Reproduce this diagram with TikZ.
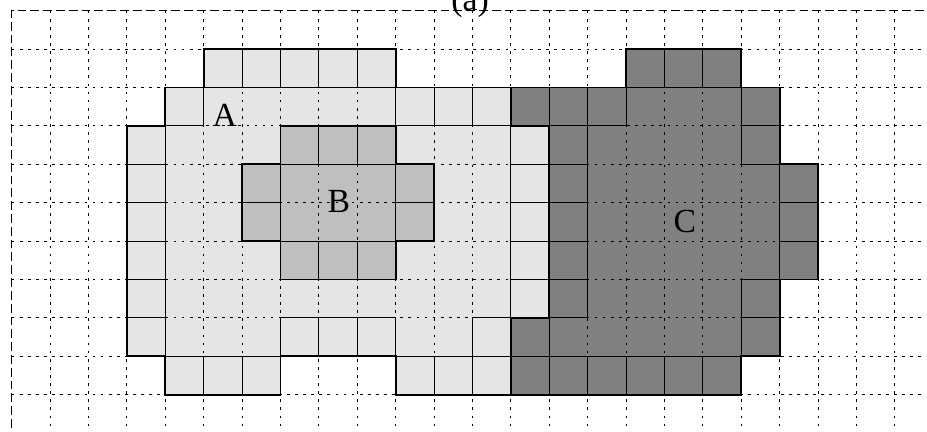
\documentclass[tikz,border=0pt]{standalone}
\usepackage{fontspec}
\setmainfont{Liberation Serif}
\usetikzlibrary{calc}

\definecolor{lightA}{gray}{0.90}
\definecolor{midB}{gray}{0.75}
\definecolor{darkC}{gray}{0.50}

\tikzset{
    region/.style={draw=black, line width=1.4pt, line join=miter},
    cellbox/.style={draw=black, line width=0.6pt},
    gridline/.style={black, line width=0.6pt, dash pattern=on 2pt off 4pt},
    frameline/.style={black, line width=0.6pt, dash pattern=on 6.5pt off 3pt},
    label/.style={font=\fontsize{25}{30}\selectfont, inner sep=0pt}
}

\begin{document}
\begin{tikzpicture}
    % Page window, the grid runs past it on the right and bottom
    \useasboundingbox (-0.305,-10.97) rectangle (23.84,0.279);
    \clip (-0.305,-10.97) rectangle (23.84,0.279);

    % Region A (B sits inside it)
    \filldraw[region, fill=lightA] (5,-1) -- (10,-1) -- (10,-2) -- (13,-2) -- (13,-3) -- (14,-3)
        -- (14,-8) -- (13,-8) -- (13,-10) -- (10,-10) -- (10,-9) -- (7,-9) -- (7,-10)
        -- (4,-10) -- (4,-9) -- (3,-9) -- (3,-3) -- (4,-3) -- (4,-2) -- (5,-2) -- cycle;

    % Region B
    \filldraw[region, fill=midB] (7,-3) -- (10,-3) -- (10,-4) -- (11,-4) -- (11,-6) -- (10,-6)
        -- (10,-7) -- (7,-7) -- (7,-6) -- (6,-6) -- (6,-4) -- (7,-4) -- cycle;

    % Region C
    \filldraw[region, fill=darkC] (16,-1) -- (19,-1) -- (19,-2) -- (20,-2) -- (20,-4) -- (21,-4)
        -- (21,-7) -- (20,-7) -- (20,-9) -- (19,-9) -- (19,-10) -- (13,-10) -- (13,-8)
        -- (14,-8) -- (14,-3) -- (13,-3) -- (13,-2) -- (16,-2) -- cycle;

    % Boundary cells of each region get their own box
    \foreach \c/\r in {5/1,6/1,7/1,8/1,9/1, 4/2,10/2,11/2,12/2, 3/3,13/3, 3/4,13/4, 3/5,13/5,
                       3/6,13/6, 3/7,13/7, 3/8,7/8,8/8,9/8,12/8, 4/9,5/9,6/9,10/9,11/9,12/9}
        \draw[cellbox] (\c,-\r) rectangle ++(1,-1);
    \foreach \c/\r in {7/3,8/3,9/3, 6/4,10/4, 6/5,10/5, 7/6,8/6,9/6}
        \draw[cellbox] (\c,-\r) rectangle ++(1,-1);
    \foreach \c/\r in {16/1,17/1,18/1, 13/2,14/2,15/2,19/2, 14/3,19/3, 14/4,20/4, 14/5,20/5,
                       14/6,20/6, 14/7,19/7, 13/8,19/8, 13/9,14/9,15/9,16/9,17/9,18/9}
        \draw[cellbox] (\c,-\r) rectangle ++(1,-1);

    % Dotted grid over everything
    \foreach \x in {1,...,24}
        \draw[gridline] (\x,0) -- (\x,-11.2);
    \foreach \y in {1,...,11}
        \draw[gridline] (0,-\y) -- (24.2,-\y);

    % Dashed frame on top and left
    \draw[frameline] (0,-11.2) -- (0,0) -- (24.2,0);

    % Labels
    \node[label] (labelA) at (5.55,-2.72) {A};
    \node[label] (labelB) at (8.52,-4.96) {B};
    \node[label] (labelC) at (17.53,-5.48) {C};
    \node[label, anchor=base] (title) at (11.94,0) {(a)};
\end{tikzpicture}
\end{document}
